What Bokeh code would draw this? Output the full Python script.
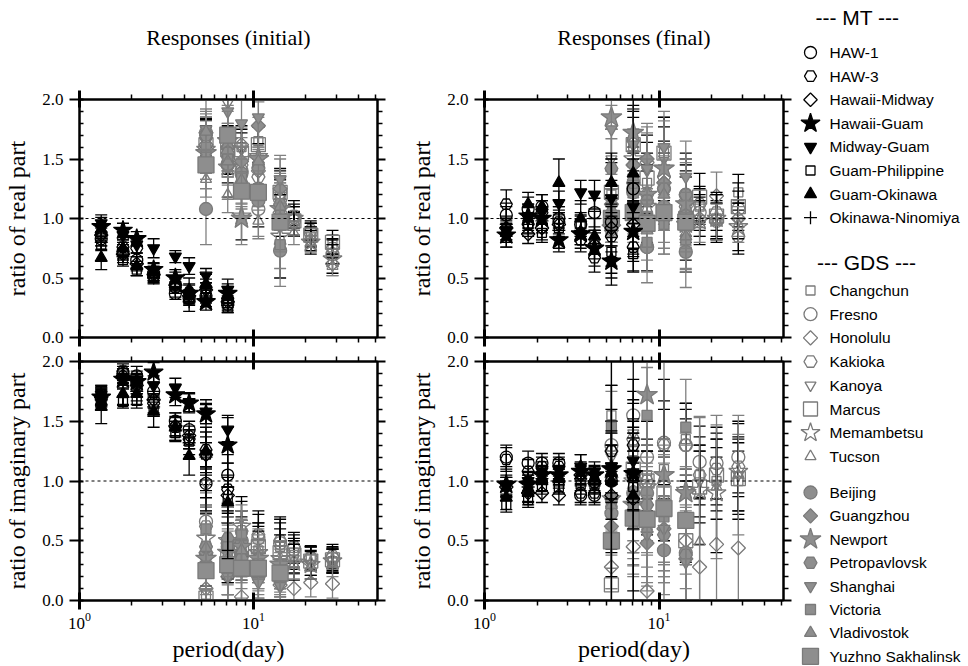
import math
from bokeh.plotting import figure
from bokeh.layouts import row, column
from bokeh.models import (Range1d, LogAxis, LinearAxis, FixedTicker,
                          PrintfTickFormatter, Span, ColumnDataSource)
from bokeh.core.properties import value
from bokeh.embed import file_html
from bokeh.resources import INLINE

N = None

# ---------------- data ----------------
PERIOD_MT = [1.333, 1.778, 2.133, 2.667, 3.556, 4.267, 5.333, 7.111]
PERIOD_GDS = [5.333, 7.111, 8.533, 10.667, 14.222, 17.067, 21.333, 28.444]

TITLES = ["Responses (initial)", "Responses (final)"]
MT_NAMES = ["HAW-1", "HAW-3", "Hawaii-Midway", "Hawaii-Guam", "Midway-Guam",
            "Guam-Philippine", "Guam-Okinawa", "Okinawa-Ninomiya"]
GDS_NAMES = ["Changchun", "Fresno", "Honolulu", "Kakioka", "Kanoya", "Marcus",
             "Memambetsu", "Tucson", "Beijing", "Guangzhou", "Newport",
             "Petropavlovsk", "Shanghai", "Victoria", "Vladivostok",
             "Yuzhno Sakhalinsk"]

# real part, initial
MT_RE_INI = [
    [0.83, 0.72, 0.65, 0.52, 0.37, 0.33, 0.35, 0.28],
    [0.88, 0.76, 0.75, 0.55, 0.42, 0.38, 0.42, 0.33],
    [0.86, 0.70, 0.62, 0.53, 0.44, 0.35, 0.40, 0.30],
    [0.93, 0.90, 0.83, 0.57, 0.50, 0.37, 0.30, 0.37],
    [0.96, 0.86, 0.78, 0.75, 0.68, 0.60, 0.52, 0.40],
    [0.78, 0.65, 0.57, 0.50, 0.45, 0.32, 0.36, 0.25],
    [0.67, 0.75, 0.60, 0.55, 0.48, 0.40, 0.45, 0.35],
    [0.80, 0.68, 0.58, 0.50, 0.40, 0.30, 0.33, 0.27],
]
MT_RE_INI_ERR = [
    [0.06, 0.06, 0.06, 0.05, 0.05, 0.05, 0.06, 0.05],
    [0.07, 0.06, 0.07, 0.05, 0.05, 0.06, 0.07, 0.06],
    [0.06, 0.05, 0.06, 0.05, 0.05, 0.05, 0.06, 0.05],
    [0.08, 0.06, 0.06, 0.06, 0.07, 0.08, 0.07, 0.08],
    [0.07, 0.06, 0.07, 0.08, 0.05, 0.07, 0.06, 0.09],
    [0.05, 0.05, 0.05, 0.04, 0.05, 0.05, 0.05, 0.04],
    [0.10, 0.07, 0.08, 0.07, 0.07, 0.10, 0.08, 0.08],
    [0.06, 0.05, 0.06, 0.05, 0.06, 0.08, 0.07, 0.06],
]
GDS_RE_INI = [
    [1.70, 1.55, 1.60, 1.65, 1.18, 1.02, 0.85, 0.78],
    [1.72, 1.45, 1.40, 1.08, 1.22, 0.98, 0.88, 0.70],
    [1.62, 1.60, 1.62, 1.40, 1.05, 1.00, 0.82, 0.62],
    [1.68, 1.52, 1.45, 1.35, 1.15, 1.02, 0.90, 0.75],
    [1.65, 1.97, 1.58, 1.45, 1.10, 0.95, 0.83, 0.72],
    [1.62, 1.58, 1.55, 1.62, 1.22, 0.98, 0.86, 0.80],
    [1.58, 1.43, 1.02, 1.52, 0.85, 1.00, 0.80, 0.66],
    [1.33, 1.20, 1.40, 0.98, 1.10, 0.88, 0.80, 0.60],
    [1.08, 1.46, 1.38, 1.15, 0.73, N, N, N],
    [1.72, 1.60, 1.48, 1.78, 1.25, N, N, N],
    [1.55, 1.65, 1.00, 1.50, 1.08, N, N, N],
    [1.70, 1.55, 1.30, 1.42, 1.12, N, N, N],
    [1.75, 1.90, 1.80, 1.85, 1.33, N, N, N],
    [1.60, 1.50, 1.35, 1.25, 0.78, N, N, N],
    [1.73, 1.48, 1.32, 1.48, 1.10, N, N, N],
    [1.45, 1.70, 1.23, 1.22, 0.97, N, N, N],
]
GDS_RE_INI_ERR = [
    [0.15, 0.15, 0.12, 0.12, 0.15, 0.08, 0.08, 0.08],
    [0.12, 0.15, 0.12, 0.15, 0.18, 0.08, 0.08, 0.08],
    [0.20, 0.20, 0.15, 0.20, 0.20, 0.10, 0.10, 0.10],
    [0.15, 0.15, 0.15, 0.15, 0.20, 0.10, 0.08, 0.08],
    [0.20, 0.20, 0.20, 0.18, 0.25, 0.10, 0.10, 0.10],
    [0.15, 0.20, 0.20, 0.15, 0.20, 0.12, 0.10, 0.10],
    [0.20, 0.25, 0.20, 0.25, 0.35, 0.15, 0.10, 0.12],
    [0.15, 0.15, 0.20, 0.15, 0.20, 0.10, 0.08, 0.08],
    [0.30, 0.30, 0.25, 0.30, 0.30, N, N, N],
    [0.20, 0.20, 0.20, 0.20, 0.25, N, N, N],
    [0.30, 0.30, 0.22, 0.35, 0.30, N, N, N],
    [0.20, 0.20, 0.20, 0.20, 0.20, N, N, N],
    [0.25, 0.20, 0.20, 0.25, 0.20, N, N, N],
    [0.15, 0.15, 0.15, 0.15, 0.20, N, N, N],
    [0.15, 0.20, 0.20, 0.20, 0.20, N, N, N],
    [0.12, 0.20, 0.15, 0.15, 0.25, N, N, N],
]

# imaginary part, initial
MT_IM_INI = [
    [1.70, 1.90, 1.88, 1.75, 1.50, 1.43, 0.98, 1.05],
    [1.72, 1.92, 1.82, 1.65, 1.45, 1.35, 1.26, 0.93],
    [1.70, 1.88, 1.80, 1.68, 1.46, 1.38, 1.22, 0.88],
    [1.70, 1.85, 1.83, 1.91, 1.72, 1.65, 1.56, 1.30],
    [1.72, 1.87, 1.85, 1.80, 1.78, 1.66, 1.58, 1.43],
    [1.73, 1.66, 1.67, 1.60, 1.40, 1.33, 1.22, 0.85],
    [1.62, 1.73, 1.73, 1.58, 1.45, 1.21, 1.25, 0.82],
    [1.68, 1.70, 1.75, 1.62, 1.42, 1.32, 1.20, 0.95],
]
MT_IM_INI_ERR = [
    [0.08, 0.06, 0.08, 0.07, 0.07, 0.07, 0.12, 0.10],
    [0.08, 0.06, 0.07, 0.08, 0.08, 0.08, 0.15, 0.12],
    [0.07, 0.06, 0.07, 0.07, 0.08, 0.08, 0.15, 0.15],
    [0.08, 0.07, 0.07, 0.08, 0.09, 0.08, 0.08, 0.15],
    [0.08, 0.07, 0.07, 0.08, 0.08, 0.08, 0.10, 0.10],
    [0.06, 0.05, 0.06, 0.06, 0.06, 0.06, 0.10, 0.10],
    [0.14, 0.09, 0.09, 0.13, 0.12, 0.16, 0.20, 0.40],
    [0.08, 0.07, 0.08, 0.08, 0.08, 0.10, 0.45, 0.60],
]
GDS_IM_INI = [
    [0.05, 0.40, 0.45, 0.42, 0.45, 0.40, 0.35, 0.33],
    [0.66, 0.45, 0.50, 0.52, 0.48, 0.43, 0.35, 0.35],
    [0.10, 0.20, 0.03, 0.20, 0.13, 0.10, 0.15, 0.14],
    [0.62, 0.48, 0.58, 0.55, 0.50, 0.45, 0.36, 0.37],
    [0.98, 0.40, 0.50, 0.38, 0.30, 0.35, 0.31, 0.33],
    [0.02, 0.35, 0.42, 0.45, 0.40, 0.38, 0.33, 0.34],
    [0.52, 0.50, 0.62, 0.40, 0.35, 0.32, 0.30, 0.33],
    [0.42, 0.38, 0.48, 0.35, 0.32, 0.30, 0.28, 0.30],
    [0.38, 0.48, 0.50, 0.20, 0.18, N, N, N],
    [0.40, 0.28, 0.40, 0.30, 0.25, N, N, N],
    [0.35, 0.40, 0.45, 0.35, 0.30, N, N, N],
    [0.45, 0.52, 0.35, 0.25, 0.22, N, N, N],
    [0.30, 0.20, 0.25, 0.15, 0.12, N, N, N],
    [0.60, 0.45, 0.55, 0.28, 0.20, N, N, N],
    [0.44, 0.35, 0.42, 0.22, 0.18, N, N, N],
    [0.25, 0.30, 0.27, 0.27, 0.23, N, N, N],
]
GDS_IM_INI_ERR = [
    [0.30, 0.25, 0.25, 0.20, 0.20, 0.12, 0.10, 0.10],
    [0.35, 0.25, 0.25, 0.20, 0.20, 0.12, 0.10, 0.10],
    [0.30, 0.25, 0.25, 0.20, 0.20, 0.12, 0.12, 0.12],
    [0.35, 0.30, 0.25, 0.20, 0.20, 0.12, 0.10, 0.10],
    [0.25, 0.25, 0.25, 0.20, 0.20, 0.12, 0.10, 0.10],
    [0.30, 0.30, 0.25, 0.20, 0.20, 0.12, 0.12, 0.10],
    [0.40, 0.30, 0.25, 0.25, 0.20, 0.15, 0.12, 0.10],
    [0.30, 0.25, 0.20, 0.20, 0.18, 0.12, 0.10, 0.10],
    [0.40, 0.30, 0.25, 0.20, 0.15, N, N, N],
    [0.35, 0.30, 0.25, 0.20, 0.15, N, N, N],
    [0.45, 0.35, 0.30, 0.25, 0.20, N, N, N],
    [0.35, 0.30, 0.25, 0.20, 0.15, N, N, N],
    [0.30, 0.25, 0.25, 0.20, 0.15, N, N, N],
    [0.30, 0.25, 0.25, 0.20, 0.15, N, N, N],
    [0.35, 0.30, 0.25, 0.20, 0.15, N, N, N],
    [0.30, 0.30, 0.25, 0.25, 0.20, N, N, N],
]

# real part, final
MT_RE_FIN = [
    [1.03, 1.08, 1.10, 1.00, 0.95, 1.05, 0.97, 1.25],
    [1.12, 0.95, 1.05, 0.97, 0.82, 0.67, 0.85, 0.76],
    [0.92, 0.87, 0.92, 0.95, 0.88, 0.78, 0.92, 0.95],
    [0.86, 1.02, 1.00, 0.82, 0.87, 0.75, 0.64, 0.89],
    [0.90, 1.00, 1.05, 1.13, 1.22, 1.20, 1.17, 1.10],
    [0.90, 0.95, 0.88, 0.92, 0.95, 0.80, 0.72, 0.70],
    [0.88, 1.12, 1.10, 1.30, 1.00, 0.85, 1.30, 1.38],
    [0.95, 1.00, 0.98, 0.90, 0.90, 0.88, 1.00, 1.05],
]
MT_RE_FIN_ERR = [
    [0.10, 0.10, 0.10, 0.10, 0.10, 0.12, 0.20, 0.25],
    [0.12, 0.10, 0.10, 0.10, 0.10, 0.12, 0.25, 0.20],
    [0.10, 0.08, 0.10, 0.10, 0.10, 0.12, 0.20, 0.20],
    [0.10, 0.10, 0.10, 0.10, 0.12, 0.15, 0.20, 0.25],
    [0.10, 0.10, 0.10, 0.10, 0.10, 0.12, 0.15, 0.20],
    [0.08, 0.08, 0.08, 0.08, 0.08, 0.10, 0.18, 0.15],
    [0.12, 0.10, 0.10, 0.20, 0.15, 0.15, 0.25, 0.70],
    [0.15, 0.12, 0.10, 0.15, 0.12, 0.18, 0.50, 0.35],
]
GDS_RE_FIN = [
    [1.20, 1.60, 1.30, 1.55, 1.20, 1.10, 1.00, 1.22],
    [0.97, 1.25, 0.76, 1.25, 1.20, 1.05, 0.98, 1.08],
    [0.90, 1.45, 1.47, 1.30, 1.15, 1.00, 1.19, 1.00],
    [1.00, 1.30, 1.20, 1.35, 1.10, 1.12, 1.05, 0.85],
    [1.50, 1.65, 1.40, 1.50, 1.10, 1.00, 0.98, 0.98],
    [1.22, 1.62, 1.34, 1.55, 1.00, 1.18, 1.02, 1.10],
    [0.92, 1.50, 1.10, 1.42, 0.95, 0.98, 1.00, 0.93],
    [1.05, 1.20, 1.00, 1.00, 0.88, 0.95, 0.97, 0.95],
    [0.95, 1.22, 0.76, 1.10, 0.72, N, N, N],
    [1.12, 1.45, 1.50, 1.30, 1.05, N, N, N],
    [1.85, 1.72, 1.20, 1.42, 1.12, N, N, N],
    [1.42, 1.30, 1.15, 1.25, 1.20, N, N, N],
    [1.75, 1.62, 1.42, 1.60, 1.35, N, N, N],
    [1.00, 1.10, 0.80, 0.95, 0.82, N, N, N],
    [1.08, 1.35, 0.90, 1.20, 0.85, N, N, N],
    [1.00, 1.05, 0.96, 1.05, 0.97, N, N, N],
]
GDS_RE_FIN_ERR = [
    [0.20, 0.30, 0.25, 0.30, 0.35, 0.15, 0.15, 0.15],
    [0.20, 0.30, 0.20, 0.30, 0.30, 0.15, 0.15, 0.15],
    [0.25, 0.30, 0.30, 0.30, 0.30, 0.15, 0.20, 0.15],
    [0.20, 0.30, 0.25, 0.30, 0.30, 0.15, 0.15, 0.15],
    [0.25, 0.30, 0.30, 0.35, 0.35, 0.15, 0.15, 0.15],
    [0.25, 0.30, 0.30, 0.30, 0.35, 0.20, 0.20, 0.20],
    [0.25, 0.35, 0.30, 0.35, 0.40, 0.20, 0.20, 0.20],
    [0.20, 0.25, 0.25, 0.30, 0.30, 0.15, 0.15, 0.15],
    [0.30, 0.35, 0.30, 0.35, 0.30, N, N, N],
    [0.25, 0.30, 0.30, 0.30, 0.30, N, N, N],
    [0.10, 0.35, 0.30, 0.40, 0.35, N, N, N],
    [0.25, 0.30, 0.25, 0.30, 0.30, N, N, N],
    [0.25, 0.30, 0.30, 0.30, 0.30, N, N, N],
    [0.20, 0.25, 0.25, 0.25, 0.25, N, N, N],
    [0.20, 0.30, 0.25, 0.30, 0.30, N, N, N],
    [0.20, 0.25, 0.20, 0.25, 0.25, N, N, N],
]

# imaginary part, final
MT_IM_FIN = [
    [1.20, 1.15, 1.15, 1.15, 0.88, 0.88, 1.00, 1.05],
    [1.18, 1.08, 1.12, 1.12, 0.90, 0.90, 1.25, 1.30],
    [0.95, 0.90, 0.90, 0.88, 1.05, 0.98, 0.88, 0.85],
    [0.97, 0.97, 1.05, 1.05, 1.08, 1.05, 1.10, 1.06],
    [0.95, 1.00, 1.08, 1.10, 1.12, 1.08, 1.12, 1.17],
    [0.80, 0.84, 0.95, 0.95, 0.97, 0.97, 1.00, 0.95],
    [0.86, 0.90, 1.00, 1.02, 1.12, 1.02, 1.00, 0.88],
    [1.00, 0.95, 1.02, 1.00, 1.02, 1.00, 1.05, 1.00],
]
MT_IM_FIN_ERR = [
    [0.10, 0.10, 0.08, 0.08, 0.08, 0.08, 0.15, 0.20],
    [0.10, 0.10, 0.08, 0.08, 0.08, 0.08, 0.15, 0.20],
    [0.08, 0.08, 0.08, 0.08, 0.08, 0.08, 0.20, 0.25],
    [0.08, 0.08, 0.08, 0.08, 0.08, 0.08, 0.20, 0.30],
    [0.08, 0.08, 0.08, 0.08, 0.10, 0.08, 0.30, 0.35],
    [0.06, 0.06, 0.06, 0.06, 0.08, 0.08, 0.15, 0.20],
    [0.10, 0.10, 0.08, 0.08, 0.10, 0.10, 0.80, 0.80],
    [0.12, 0.12, 0.10, 0.10, 0.10, 0.10, 1.10, 1.20],
]
GDS_IM_FIN = [
    [1.55, 1.25, 1.05, 1.10, 1.35, 1.05, 1.00, 1.00],
    [1.30, 1.55, 1.20, 1.32, 1.30, 1.16, 1.15, 1.20],
    [0.28, 0.45, 0.08, 0.80, 0.50, 0.28, 0.47, 0.44],
    [1.25, 1.35, 1.00, 1.30, 1.30, 1.05, 1.10, 1.12],
    [1.20, 1.40, 0.95, 0.85, 0.70, 1.00, 0.98, 1.05],
    [0.13, 1.10, 1.00, 0.90, 0.50, 0.95, 1.05, 1.02],
    [0.85, 1.00, 0.95, 1.05, 0.92, 0.92, 0.90, 1.08],
    [1.00, 0.70, 0.62, 0.75, 0.70, 0.49, 0.95, 1.05],
    [0.73, 0.90, 0.90, 0.42, 0.40, N, N, N],
    [0.62, 0.75, 0.48, 0.60, 0.35, N, N, N],
    [1.10, 0.80, 1.72, 1.05, 0.90, N, N, N],
    [0.85, 0.85, 0.80, 0.55, 0.38, N, N, N],
    [0.80, 0.70, 0.55, 0.60, 0.32, N, N, N],
    [1.45, 0.80, 1.55, 0.70, 1.45, N, N, N],
    [0.80, 0.62, 0.60, 0.75, 0.70, N, N, N],
    [0.50, 0.69, 0.68, 0.77, 0.67, N, N, N],
]
GDS_IM_FIN_ERR = [
    [0.25, 0.20, 0.20, 0.25, 0.30, 0.20, 0.20, 0.25],
    [0.30, 0.30, 0.30, 0.35, 0.35, 0.30, 0.30, 0.30],
    [0.30, 0.45, 0.30, 0.50, 0.50, 1.25, 1.00, 0.95],
    [0.25, 0.30, 0.25, 0.30, 0.30, 0.25, 0.25, 0.25],
    [0.30, 0.35, 0.30, 0.35, 0.40, 0.30, 0.30, 0.30],
    [0.30, 0.30, 0.30, 0.35, 1.15, 0.30, 0.30, 0.30],
    [0.45, 0.40, 0.40, 0.80, 0.60, 0.45, 0.50, 0.40],
    [0.40, 0.50, 0.50, 0.60, 0.60, 1.05, 0.60, 0.50],
    [0.35, 0.40, 0.40, 0.45, 0.40, N, N, N],
    [0.35, 0.40, 0.40, 0.40, 0.40, N, N, N],
    [1.00, 0.40, 1.10, 1.00, 0.50, N, N, N],
    [0.40, 0.45, 0.40, 0.40, 0.40, N, N, N],
    [0.35, 0.40, 0.40, 0.40, 0.40, N, N, N],
    [0.30, 0.40, 0.40, 0.45, 0.40, N, N, N],
    [0.35, 0.40, 0.40, 0.45, 0.40, N, N, N],
    [0.40, 0.40, 0.40, 0.45, 0.45, N, N, N],
]

X_MAJOR = [1, 10]
X_MINOR = [2, 3, 4, 5, 6, 7, 8, 9, 20, 30, 40, 50]
Y_MAJOR = [0.0, 0.5, 1.0, 1.5, 2.0]
Y_MINOR = [0.1, 0.2, 0.3, 0.4, 0.6, 0.7, 0.8, 0.9, 1.1, 1.2, 1.3, 1.4,
           1.6, 1.7, 1.8, 1.9]
X_LO, X_HI = 1, 51.6
Y_LO, Y_HI = 0, 2

# ---------------- styles ----------------
SERIF = "Liberation Serif"
SANS = "Liberation Sans"
GRAY_LINE = "#7a7a7a"
GRAY_FILL = "#8e8e8e"

MT_MARKER = ["circle", "hex", "diamond", "star", "inverted_triangle",
             "square", "triangle", "cross"]
MT_SIZE = [12, 12, 9.5, 20, 12, 9, 12, 13]
MT_FILL = [None, None, None, "black", "black", None, "black", None]
MT_LINE = ["black"] * 8
MT_ECOL = ["black"] * 8

GDS_MARKER = ["square", "circle", "diamond", "hex", "inverted_triangle",
              "square", "star", "triangle",
              "circle", "diamond", "star", "hex", "inverted_triangle",
              "square", "triangle", "square"]
GDS_SIZE = [9, 13, 10, 13, 11, 14, 20, 11, 13, 10, 22, 13, 12, 10, 12, 16]
GDS_FILL = [None] * 8 + [GRAY_FILL] * 8
GDS_LINE = [GRAY_LINE] * 16
GDS_ECOL = ["black", "black", "#808080", "black", "black", "black", "black",
            "#808080"] + ["#808080"] * 8


def glyph_of(marker):
    # diamonds drawn as squares turned by 45 degrees (equal width and height)
    if marker == "diamond":
        return "square", math.pi / 4
    return marker, 0.0


def style_x(ax, labelled, xlabel=None):
    ax.ticker = FixedTicker(ticks=X_MAJOR, minor_ticks=X_MINOR)
    ax.axis_line_width = 2
    ax.axis_line_color = "black"
    ax.major_tick_line_color = "black"
    ax.minor_tick_line_color = "black"
    ax.major_tick_line_width = 3
    ax.minor_tick_line_width = 1.5
    ax.major_tick_in = 8
    ax.major_tick_out = 9
    ax.minor_tick_in = 0
    ax.minor_tick_out = 5
    if labelled:
        ax.major_label_text_font = SERIF
        ax.major_label_text_font_size = "17px"
        ax.major_label_text_color = "black"
        ax.major_label_standoff = 3
        if xlabel:
            ax.axis_label = xlabel
            ax.axis_label_text_font = SERIF
            ax.axis_label_text_font_size = "24px"
            ax.axis_label_text_font_style = "normal"
            ax.axis_label_text_color = "black"
            ax.axis_label_standoff = 4
    else:
        ax.formatter = PrintfTickFormatter(format="")
        ax.major_label_text_font_size = "0px"
        ax.major_label_standoff = 0


def style_y(ax, labelled, ylabel=None):
    ax.ticker = FixedTicker(ticks=Y_MAJOR, minor_ticks=Y_MINOR)
    ax.axis_line_width = 2
    ax.axis_line_color = "black"
    ax.major_tick_line_color = "black"
    ax.minor_tick_line_color = "black"
    ax.major_tick_line_width = 2
    ax.minor_tick_line_width = 1.5
    if labelled:
        ax.major_tick_in = 4
        ax.major_tick_out = 10
        ax.minor_tick_in = 4
        ax.minor_tick_out = 0
        ax.formatter = PrintfTickFormatter(format="%.1f")
        ax.major_label_text_font = SERIF
        ax.major_label_text_font_size = "17px"
        ax.major_label_text_color = "black"
        ax.major_label_standoff = 6
        ax.axis_label = ylabel
        ax.axis_label_text_font = SERIF
        ax.axis_label_text_font_size = "24px"
        ax.axis_label_text_font_style = "normal"
        ax.axis_label_text_color = "black"
        ax.axis_label_standoff = 9
    else:
        ax.major_tick_in = 0
        ax.major_tick_out = 8
        ax.minor_tick_in = 0
        ax.minor_tick_out = 5
        ax.formatter = PrintfTickFormatter(format="")
        ax.major_label_text_font_size = "0px"
        ax.major_label_standoff = 0


def draw_group(p, periods, vals, errs, markers, sizes, fills, lines, ecols):
    for i in range(len(vals)):
        xs, ys, lo, hi = [], [], [], []
        for j, v in enumerate(vals[i]):
            if v is None:
                continue
            e = errs[i][j]
            xs.append(periods[j])
            ys.append(v)
            lo.append(v - e)
            hi.append(v + e)
        src = ColumnDataSource(dict(x=xs, y=ys, lo=lo, hi=hi))
        p.segment(x0="x", y0="lo", x1="x", y1="hi", source=src,
                  line_color=ecols[i], line_width=1.3)
        p.scatter(x="x", y="lo", marker="dash", size=12, source=src,
                  line_color=ecols[i], line_width=1.3)
        p.scatter(x="x", y="hi", marker="dash", size=12, source=src,
                  line_color=ecols[i], line_width=1.3)
        mk, ang = glyph_of(markers[i])
        p.scatter(x="x", y="y", marker=mk, angle=ang, size=sizes[i], source=src,
                  fill_color=fills[i], line_color=lines[i], line_width=1.3)


def panel(width, height, left, right, top, bottom, ylabel, mt, mt_err,
          gds, gds_err, xlabel=None):
    p = figure(width=width, height=height, x_axis_type="log",
               x_range=Range1d(X_LO, X_HI), y_range=Range1d(Y_LO, Y_HI),
               output_backend="svg", toolbar_location=None, title=None,
               min_border_left=left, min_border_right=right,
               min_border_top=top, min_border_bottom=bottom)
    p.xgrid.visible = False
    p.ygrid.visible = False
    p.outline_line_color = "black"
    p.outline_line_width = 2
    p.background_fill_color = "white"
    p.border_fill_color = "white"
    style_x(p.xaxis[0], xlabel is not None, xlabel)
    style_y(p.yaxis[0], True, ylabel)
    top_ax = LogAxis()
    style_x(top_ax, False)
    p.add_layout(top_ax, "above")
    right_ax = LinearAxis()
    style_y(right_ax, False)
    p.add_layout(right_ax, "right")
    p.add_layout(Span(location=1.0, dimension="width", line_color="black",
                      line_width=1, line_dash="3 3"))
    draw_group(p, PERIOD_GDS, gds, gds_err, GDS_MARKER, GDS_SIZE, GDS_FILL,
               GDS_LINE, GDS_ECOL)
    draw_group(p, PERIOD_MT, mt, mt_err, MT_MARKER, MT_SIZE, MT_FILL,
               MT_LINE, MT_ECOL)
    return p


TOP_STRIP = 60          # height of the strip that carries the two titles
tl = panel(400, 349 - TOP_STRIP, 79, 23, 99 - TOP_STRIP, 12,
           "ratio of real part", MT_RE_INI, MT_RE_INI_ERR,
           GDS_RE_INI, GDS_RE_INI_ERR)
bl = panel(400, 317, 79, 23, 12, 66, "ratio of imaginary part",
           MT_IM_INI, MT_IM_INI_ERR, GDS_IM_INI, GDS_IM_INI_ERR,
           xlabel="period(day)")
tr = panel(395, 349 - TOP_STRIP, 84, 12, 99 - TOP_STRIP, 12,
           "ratio of real part", MT_RE_FIN, MT_RE_FIN_ERR,
           GDS_RE_FIN, GDS_RE_FIN_ERR)
br = panel(395, 317, 84, 12, 12, 66, "ratio of imaginary part",
           MT_IM_FIN, MT_IM_FIN_ERR, GDS_IM_FIN, GDS_IM_FIN_ERR,
           xlabel="period(day)")

# ---------------- title strip (pixel coordinates) ----------------
SW = 795
strip = figure(width=SW, height=TOP_STRIP, x_range=Range1d(0, SW),
               y_range=Range1d(TOP_STRIP, 0), output_backend="svg",
               toolbar_location=None, x_axis_location=None,
               y_axis_location=None, min_border=0)
strip.grid.visible = False
strip.outline_line_color = None
strip.background_fill_color = "white"
strip.border_fill_color = "white"
# centres of the two frames: (79+377)/2 and (484+783)/2
strip.text(x=[228, 633.5], y=[37, 37], text=TITLES, text_font=value(SERIF),
           text_font_size="22px", text_align="center", text_baseline="middle",
           text_color="black")

# ---------------- legend ----------------
LW, LH = 173, 666
leg = figure(width=LW, height=LH, x_range=Range1d(0, LW), y_range=Range1d(LH, 0),
             output_backend="svg", toolbar_location=None,
             x_axis_location=None, y_axis_location=None, min_border=0)
leg.grid.visible = False
leg.outline_line_color = None
leg.background_fill_color = "white"
leg.border_fill_color = "white"

MARK_X, TEXT_X = 15, 34
mt_y = [52 + 23.6 * i for i in range(8)]
gds_y = [290 + 23.7 * i for i in range(8)] + [492 + 23.4 * i for i in range(8)]

leg.text(x=[62, 71], y=[17, 262], text=["--- MT ---", "--- GDS ---"],
         text_font=value(SANS), text_font_size="21px", text_align="center",
         text_baseline="middle", text_color="black")
for i, name in enumerate(MT_NAMES):
    mk, ang = glyph_of(MT_MARKER[i])
    leg.scatter(x=[MARK_X], y=[mt_y[i]], marker=mk, angle=ang, size=MT_SIZE[i],
                fill_color=MT_FILL[i], line_color=MT_LINE[i], line_width=1.3)
for i, name in enumerate(GDS_NAMES):
    mk, ang = glyph_of(GDS_MARKER[i])
    leg.scatter(x=[MARK_X], y=[gds_y[i]], marker=mk, angle=ang,
                size=GDS_SIZE[i], fill_color=GDS_FILL[i],
                line_color=GDS_LINE[i], line_width=1.3)
leg.text(x=[TEXT_X] * 8, y=mt_y, text=MT_NAMES, text_font=value(SANS),
         text_font_size="15.5px", text_baseline="middle", text_color="black")
leg.text(x=[TEXT_X] * 16, y=gds_y, text=GDS_NAMES, text_font=value(SANS),
         text_font_size="15.5px", text_baseline="middle", text_color="black")

layout = row(column(strip, row(column(tl, bl), column(tr, br))), leg)
open("out.html", "w").write(file_html(layout, INLINE))
